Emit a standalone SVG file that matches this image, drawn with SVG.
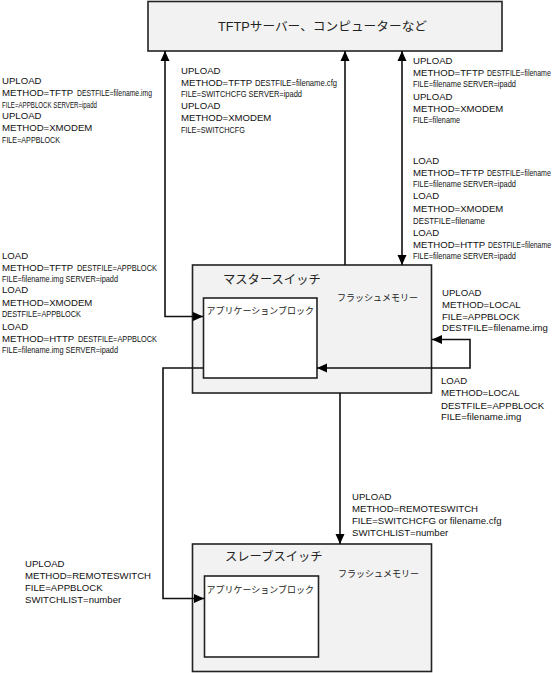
<svg xmlns="http://www.w3.org/2000/svg" width="560" height="673" viewBox="0 0 560 673">
<style>
.b{font-family:"Liberation Sans",Arial,sans-serif;font-size:9.6px;fill:#111}
.s{font-family:"Liberation Sans",Arial,sans-serif;font-size:9.2px;fill:#111}
.j{font-family:"Liberation Sans","Noto Sans CJK JP",sans-serif;fill:#222}
.box{fill:#f2f2f2;stroke:#222;stroke-width:1.6}
.inner{fill:#fff;stroke:#222;stroke-width:1.6}
.c{fill:none;stroke:#111;stroke-width:1.6}
</style>
<defs>
<marker id="ah" viewBox="0 0 10 10" refX="10" refY="5" markerWidth="10" markerHeight="10" markerUnits="userSpaceOnUse" orient="auto-start-reverse"><path d="M0,0.5 L10,5 L0,9.5 z" fill="#000"/></marker>
</defs>
<rect width="560" height="673" fill="#fff"/>

<g id="tftp">
<rect class="box" x="148" y="1.5" width="354" height="49.5"/>
<text class="j" x="218" y="31" font-size="12" textLength="209" lengthAdjust="spacingAndGlyphs">TFTPサーバー、コンピューターなど</text>
</g>

<g id="master">
<rect class="box" x="192.5" y="265" width="239" height="128"/>
<text class="j" x="223" y="284" font-size="12.3">マスタースイッチ</text>
<text class="j" x="337" y="300.5" font-size="9">フラッシュメモリー</text>
</g>
<g id="master-app">
<rect class="inner" x="203.5" y="298" width="113.5" height="80"/>
<text class="j" x="206.5" y="314" font-size="9">アプリケーションブロック</text>
</g>

<g id="slave">
<rect class="box" x="192.5" y="544" width="239" height="127.5"/>
<text class="j" x="225" y="561" font-size="12.3">スレーブスイッチ</text>
<text class="j" x="338" y="577" font-size="9">フラッシュメモリー</text>
</g>
<g id="slave-app">
<rect class="inner" x="204.5" y="576" width="114" height="81"/>
<text class="j" x="206.5" y="593" font-size="9">アプリケーションブロック</text>
</g>

<g id="connectors">
<path class="c" d="M165,51 V316.5 H203" marker-start="url(#ah)" marker-end="url(#ah)"/>
<path class="c" d="M345,265 V51" marker-end="url(#ah)"/>
<path class="c" d="M402,51 V265" marker-start="url(#ah)" marker-end="url(#ah)"/>
<path class="c" d="M317,368 H470 V339.5 H432" marker-start="url(#ah)" marker-end="url(#ah)"/>
<path class="c" d="M340,393 V544" marker-end="url(#ah)"/>
<path class="c" d="M203,368 H163 V598.5 H204" marker-end="url(#ah)"/>
</g>

<g id="labels">
<!-- left top -->
<text class="b" x="2" y="84">UPLOAD</text>
<text class="b" x="2" y="96">METHOD=TFTP</text>
<text class="s" x="77" y="96" textLength="75" lengthAdjust="spacingAndGlyphs">DESTFILE=filename.img</text>
<text class="s" x="2" y="107.5" textLength="95" lengthAdjust="spacingAndGlyphs">FILE=APPBLOCK SERVER=ipadd</text>
<text class="b" x="2" y="119">UPLOAD</text>
<text class="b" x="2" y="131">METHOD=XMODEM</text>
<text class="s" x="2" y="142.5" textLength="58" lengthAdjust="spacingAndGlyphs">FILE=APPBLOCK</text>

<!-- middle top -->
<text class="b" x="181" y="74">UPLOAD</text>
<text class="b" x="181" y="85.5">METHOD=TFTP</text>
<text class="s" x="255" y="85.5" textLength="82" lengthAdjust="spacingAndGlyphs">DESTFILE=filename.cfg</text>
<text class="s" x="181" y="96.5" textLength="121" lengthAdjust="spacingAndGlyphs">FILE=SWITCHCFG SERVER=ipadd</text>
<text class="b" x="181" y="109">UPLOAD</text>
<text class="b" x="181" y="121">METHOD=XMODEM</text>
<text class="s" x="181" y="132.5" textLength="64" lengthAdjust="spacingAndGlyphs">FILE=SWITCHCFG</text>

<!-- right top -->
<text class="b" x="413" y="64">UPLOAD</text>
<text class="b" x="413" y="75.5">METHOD=TFTP</text>
<text class="s" transform="translate(487 75.5) scale(0.76 1)">DESTFILE=filename</text>
<text class="s" x="413" y="86.5" textLength="103" lengthAdjust="spacingAndGlyphs">FILE=filename SERVER=ipadd</text>
<text class="b" x="413" y="99.5">UPLOAD</text>
<text class="b" x="413" y="111.5">METHOD=XMODEM</text>
<text class="s" x="413" y="123" textLength="47" lengthAdjust="spacingAndGlyphs">FILE=filename</text>

<!-- right load -->
<text class="b" x="413" y="164">LOAD</text>
<text class="b" x="413" y="176">METHOD=TFTP</text>
<text class="s" transform="translate(487 176) scale(0.76 1)">DESTFILE=filename</text>
<text class="s" x="413" y="187" textLength="103" lengthAdjust="spacingAndGlyphs">FILE=filename SERVER=ipadd</text>
<text class="b" x="413" y="199">LOAD</text>
<text class="b" x="413" y="211.5">METHOD=XMODEM</text>
<text class="s" x="413" y="223.5" textLength="72" lengthAdjust="spacingAndGlyphs">DESTFILE=filename</text>
<text class="b" x="413" y="236">LOAD</text>
<text class="b" x="413" y="247.5">METHOD=HTTP</text>
<text class="s" transform="translate(488 247.5) scale(0.75 1)">DESTFILE=filename</text>
<text class="s" x="413" y="259" textLength="103" lengthAdjust="spacingAndGlyphs">FILE=filename SERVER=ipadd</text>

<!-- left load -->
<text class="b" x="2" y="259">LOAD</text>
<text class="b" x="2" y="270.5">METHOD=TFTP</text>
<text class="s" x="77" y="270.5" textLength="80" lengthAdjust="spacingAndGlyphs">DESTFILE=APPBLOCK</text>
<text class="s" x="2" y="281.5" textLength="116" lengthAdjust="spacingAndGlyphs">FILE=filename.img SERVER=ipadd</text>
<text class="b" x="2" y="293">LOAD</text>
<text class="b" x="2" y="305.5">METHOD=XMODEM</text>
<text class="s" x="2" y="317" textLength="79" lengthAdjust="spacingAndGlyphs">DESTFILE=APPBLOCK</text>
<text class="b" x="2" y="330">LOAD</text>
<text class="b" x="2" y="341.5">METHOD=HTTP</text>
<text class="s" x="78" y="341.5" textLength="79" lengthAdjust="spacingAndGlyphs">DESTFILE=APPBLOCK</text>
<text class="s" x="2" y="353" textLength="116" lengthAdjust="spacingAndGlyphs">FILE=filename.img SERVER=ipadd</text>

<!-- local upload -->
<text class="b" x="442" y="296">UPLOAD</text>
<text class="b" x="442" y="307.5">METHOD=LOCAL</text>
<text class="b" x="442" y="319.5">FILE=APPBLOCK</text>
<text class="b" x="442" y="331">DESTFILE=filename.img</text>

<!-- local load -->
<text class="b" x="441" y="384">LOAD</text>
<text class="b" x="441" y="396">METHOD=LOCAL</text>
<text class="b" x="441" y="408.5">DESTFILE=APPBLOCK</text>
<text class="b" x="441" y="420">FILE=filename.img</text>

<!-- remote switch cfg -->
<text class="b" x="352" y="500">UPLOAD</text>
<text class="b" x="352" y="512">METHOD=REMOTESWITCH</text>
<text class="b" x="352" y="524">FILE=SWITCHCFG or filename.cfg</text>
<text class="b" x="352" y="535.5">SWITCHLIST=number</text>

<!-- remote switch appblock -->
<text class="b" x="25" y="567">UPLOAD</text>
<text class="b" x="25" y="579">METHOD=REMOTESWITCH</text>
<text class="b" x="25" y="591">FILE=APPBLOCK</text>
<text class="b" x="25" y="603">SWITCHLIST=number</text>
</g>
</svg>
